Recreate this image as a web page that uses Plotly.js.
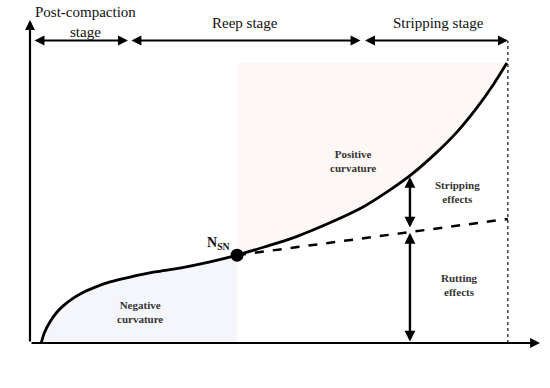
<!DOCTYPE html>
<html>
<head>
<meta charset="utf-8">
<script src="https://cdn.plot.ly/plotly-3.0.1.min.js"></script>
<style>html,body{margin:0;padding:0;background:#fff;}#chart{width:550px;height:388px;}</style>
</head>
<body>
<div id="chart"></div>
<script>
// Rut depth growth curve (conceptual units: wheel rolling 0-100, rut depth 0-100)
const curveX = [2.2, 2.8, 3.9, 5.3, 6.5, 8.2, 10.2, 12.8, 15.7, 19.6, 24.5, 29.4, 35.3, 40.6, 46.1, 52.0, 58.8, 65.3, 70.6, 74.5, 79.8, 83.7, 87.6, 90.8, 93.5];
const curveY = [0.0, 3.1, 6.5, 9.6, 11.5, 13.6, 15.5, 17.3, 18.9, 20.4, 22.0, 23.2, 25.1, 27.2, 29.8, 32.8, 37.2, 42.1, 47.4, 51.8, 59.1, 65.3, 72.8, 79.9, 86.7];
// Stripping inflection point N_SN
const nsnX = [40.6];
const nsnY = [27.2];
// Extrapolated rutting trend (dashed)
const trendX = [40.6, 93.7];
const trendY = [27.2, 38.4];
// Stage boundaries along wheel rolling
const stageBounds = [0.6, 19.4, 65.1, 93.7];
const stageNames = ["Post-compaction<br>stage", "Reep stage", "Stripping stage"];
// Effect split at wheel rolling 74.5
const effectX = 74.5;
const effectLevels = [0, 34.1, 35.3, 51.4];

const nsnIdx = curveX.indexOf(nsnX[0]);
const negX = curveX.slice(0, nsnIdx + 1);
const negY = curveY.slice(0, nsnIdx + 1);
const topY = curveY[curveY.length - 1];
const posX = curveX.slice(nsnIdx).concat([curveX[curveX.length - 1], nsnX[0]]);
const posY = curveY.slice(nsnIdx).concat([topY, topY]);

const traces = [
  {x: negX, y: negY, mode: 'lines', fill: 'tozeroy', fillcolor: 'rgb(244,246,252)',
   line: {color: 'rgba(0,0,0,0)', width: 0, shape: 'spline', smoothing: 0.8}, hoverinfo: 'skip'},
  {x: posX, y: posY, mode: 'lines', fill: 'toself', fillcolor: 'rgb(253,248,245)',
   line: {color: 'rgba(0,0,0,0)', width: 0}, hoverinfo: 'skip'},
  {x: [stageBounds[3], stageBounds[3]], y: [0, 93.6], mode: 'lines',
   line: {color: '#222', width: 1.3, dash: 'dot'}, hoverinfo: 'skip'},
  {x: trendX, y: trendY, mode: 'lines', line: {color: '#000', width: 2.5, dash: 'dash'}, hoverinfo: 'skip'},
  {x: curveX, y: curveY, mode: 'lines', line: {color: '#000', width: 2.8, shape: 'spline', smoothing: 0.8}, hoverinfo: 'skip'},
  {x: nsnX, y: nsnY, mode: 'markers', marker: {color: '#000', size: 13}, hoverinfo: 'skip'}
];

function arrow(x0, y0, x1, y1, both, w) {
  return {x: x1, y: y1, ax: x0, ay: y0, xref: 'x', yref: 'y', axref: 'x', ayref: 'y',
    text: '', showarrow: true, arrowhead: 2, arrowsize: 0.9, arrowwidth: w || 2.2,
    arrowcolor: '#000', arrowside: both ? 'end+start' : 'end', standoff: 0, startstandoff: 0};
}
const serif = "'Liberation Serif', 'Times New Roman', serif";
function label(txt, x, y, size, bold, color) {
  return {x: x, y: y, xref: 'x', yref: 'y', text: bold ? '<b>' + txt + '</b>' : txt, showarrow: false,
    font: {family: serif, size: size, color: color || '#111'}, xanchor: 'center', yanchor: 'middle'};
}

const stageY = 93.65;
const annotations = [
  arrow(0, 0, 100, 0, false, 2.2),
  arrow(0, 0, 0, 100, false, 2.2),
  arrow(stageBounds[0], stageY, stageBounds[1] - 0.2, stageY, true),
  arrow(stageBounds[1] + 0.2, stageY, stageBounds[2] - 0.3, stageY, true),
  arrow(stageBounds[2] + 0.3, stageY, stageBounds[3], stageY, true),
  arrow(effectX, effectLevels[2], effectX, effectLevels[3], true, 2.4),
  arrow(effectX, effectLevels[0], effectX, effectLevels[1], true, 2.4),
  label(stageNames[0], 10.8, 99.5, 15, false),
  label(stageNames[1], 42.2, 99.2, 15, false),
  label(stageNames[2], 80.0, 99.2, 15, false),
  {x: -5.6, y: 78.5, xref: 'x', yref: 'y', text: 'Rut depth(mm)', showarrow: false, textangle: -90,
   font: {family: serif, size: 15, color: '#111'}, xanchor: 'center', yanchor: 'middle'},
  label('Number of<br>wheel rolling', 91.6, -7.3, 15, false),
  label('N<sub>SN</sub>', 36.9, 30.9, 14, true),
  label('Positive<br>curvature', 63.4, 56.3, 11, true, '#333'),
  label('Negative<br>curvature', 21.6, 9.5, 11, true, '#333'),
  label('Stripping<br>effects', 83.8, 46.8, 11, true, '#333'),
  label('Rutting<br>effects', 84.2, 17.9, 11, true, '#333')
];

const layout = {
  width: 550, height: 388,
  margin: {l: 30, r: 10, t: 20, b: 45, pad: 0},
  paper_bgcolor: '#fff', plot_bgcolor: '#fff',
  showlegend: false,
  font: {family: serif},
  xaxis: {range: [0, 100], showgrid: false, zeroline: false, showticklabels: false, ticks: '', showline: false, fixedrange: true},
  yaxis: {range: [0, 100], showgrid: false, zeroline: false, showticklabels: false, ticks: '', showline: false, fixedrange: true},
  annotations: annotations
};

Plotly.newPlot('chart', traces, layout, {staticPlot: true, displayModeBar: false});
</script>
</body>
</html>
